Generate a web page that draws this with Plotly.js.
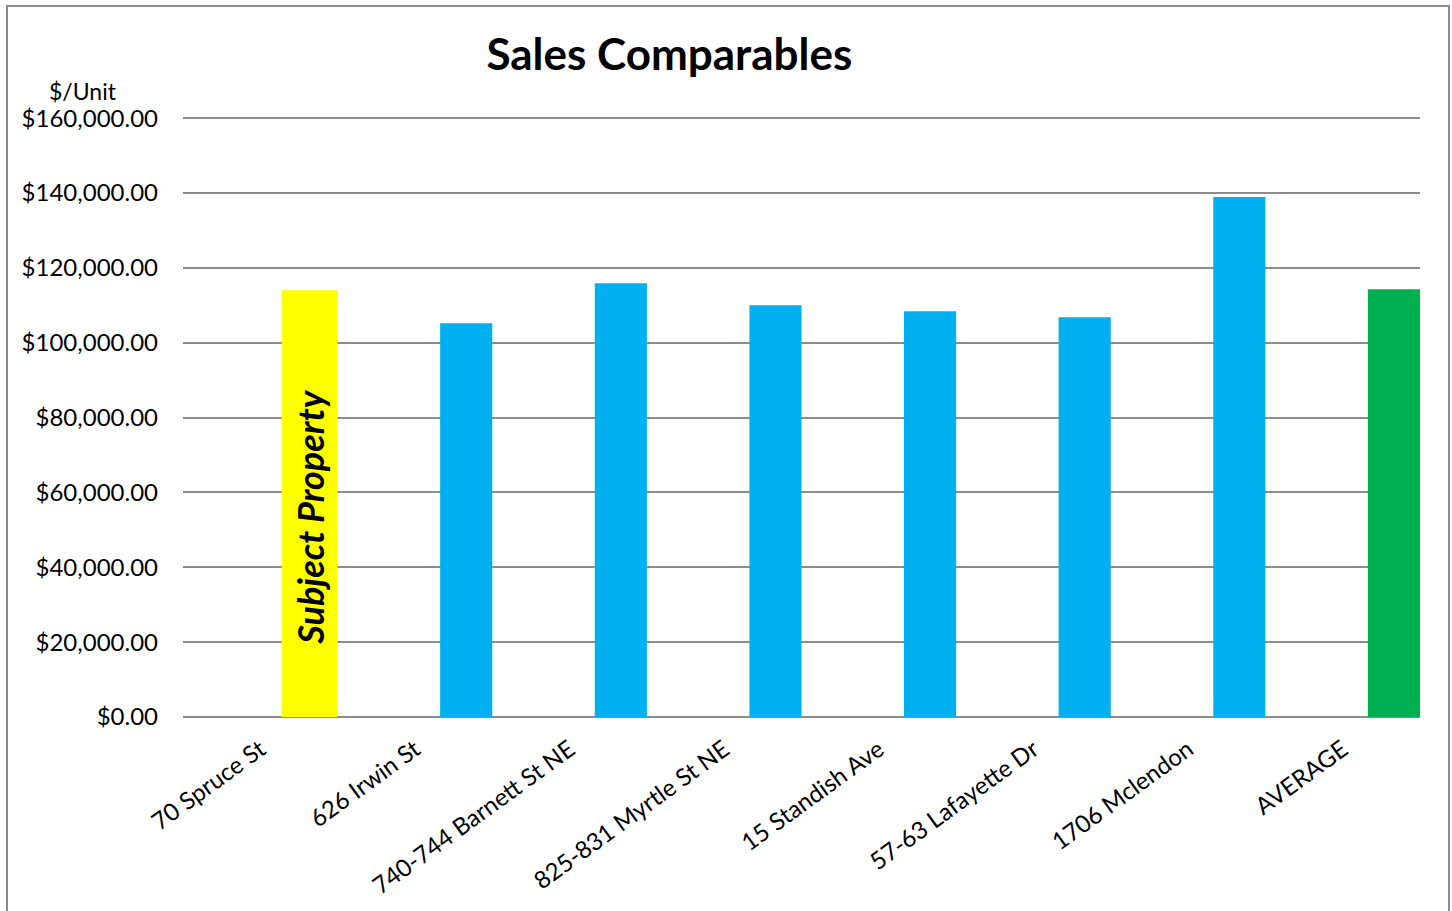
<!DOCTYPE html>
<html>
<head>
<meta charset="utf-8">
<script src="https://cdn.plot.ly/plotly-3.0.1.min.js"></script>
<style>
html,body{margin:0;padding:0;background:#fff;}
#wrap{position:relative;width:1452px;height:911px;overflow:hidden;}
#chart{position:absolute;left:0;top:0;width:1452px;height:911px;}
#frame{position:absolute;left:6px;top:5px;width:1440px;height:1000px;border:2px solid #8c8c8c;pointer-events:none;}
</style>
</head>
<body>
<div id="wrap"><div id="chart"></div><div id="frame"></div></div>
<script>
const categories = ["70 Spruce St","626 Irwin St","740-744 Barnett St NE","825-831 Myrtle St NE","15 Standish Ave","57-63 Lafayette Dr","1706 Mclendon","AVERAGE"];
const pricePerUnit = [114000, 105200, 115900, 110000, 108400, 106800, 138900, 114300];
const barColors = ["#FFFF00","#00B0F0","#00B0F0","#00B0F0","#00B0F0","#00B0F0","#00B0F0","#00B050"];
const yTickVals = [0,20000,40000,60000,80000,100000,120000,140000,160000];
const yTickText = ["$0.00","$20,000.00","$40,000.00","$60,000.00","$80,000.00","$100,000.00","$120,000.00","$140,000.00","$160,000.00"];

const widths = categories.map((c,i)=> i===0 ? 0.362 : 0.337);
const offsets = widths.map(w => 0.5 - w);

const font = "Lato, 'Open Sans', sans-serif";

Plotly.newPlot('chart', [{
  type: 'bar',
  x: categories,
  y: pricePerUnit,
  width: widths,
  offset: offsets,
  marker: {color: barColors, line: {width: 0}},
  hoverinfo: 'x+y'
}], {
  width: 1452, height: 911,
  margin: {l: 183, r: 32, t: 117, b: 194},
  paper_bgcolor: '#fff', plot_bgcolor: '#fff',
  showlegend: false,
  title: {text: '<b>Sales Comparables</b>', x: 0.461, xanchor: 'center', y: 0.94, yanchor: 'middle',
          font: {family: font, size: 44, color: '#000'}},
  xaxis: {
    type: 'category', range: [-0.5, 7.5],
    tickangle: -36, tickfont: {family: font, size: 24, color: '#000'},
    showgrid: false, showline: false, ticks: '', zeroline: false, ticklabelstandoff: 13
  },
  yaxis: {
    range: [0, 160300], tickvals: yTickVals, ticktext: yTickText,
    tickfont: {family: font, size: 24, color: '#000'},
    showgrid: true, gridcolor: '#8c8c8c', gridwidth: 2,
    zeroline: true, zerolinecolor: '#8c8c8c', zerolinewidth: 2,
    ticks: '', ticklabelstandoff: 24, showline: false
  },
  annotations: [
    {text: '$/Unit', xref: 'paper', yref: 'paper', x: (83-183)/1237, y: (717-91)/600,
     xanchor: 'center', yanchor: 'middle', showarrow: false, font: {family: font, size: 23, color: '#000'}},
    {text: '<b><i>Subject Property</i></b>', x: 0.319, y: 53400, xref: 'x', yref: 'y',
     textangle: -90, showarrow: false, font: {family: font, size: 36, color: '#000'}}
  ]
}, {displayModeBar: false, staticPlot: false});
</script>
</body>
</html>
